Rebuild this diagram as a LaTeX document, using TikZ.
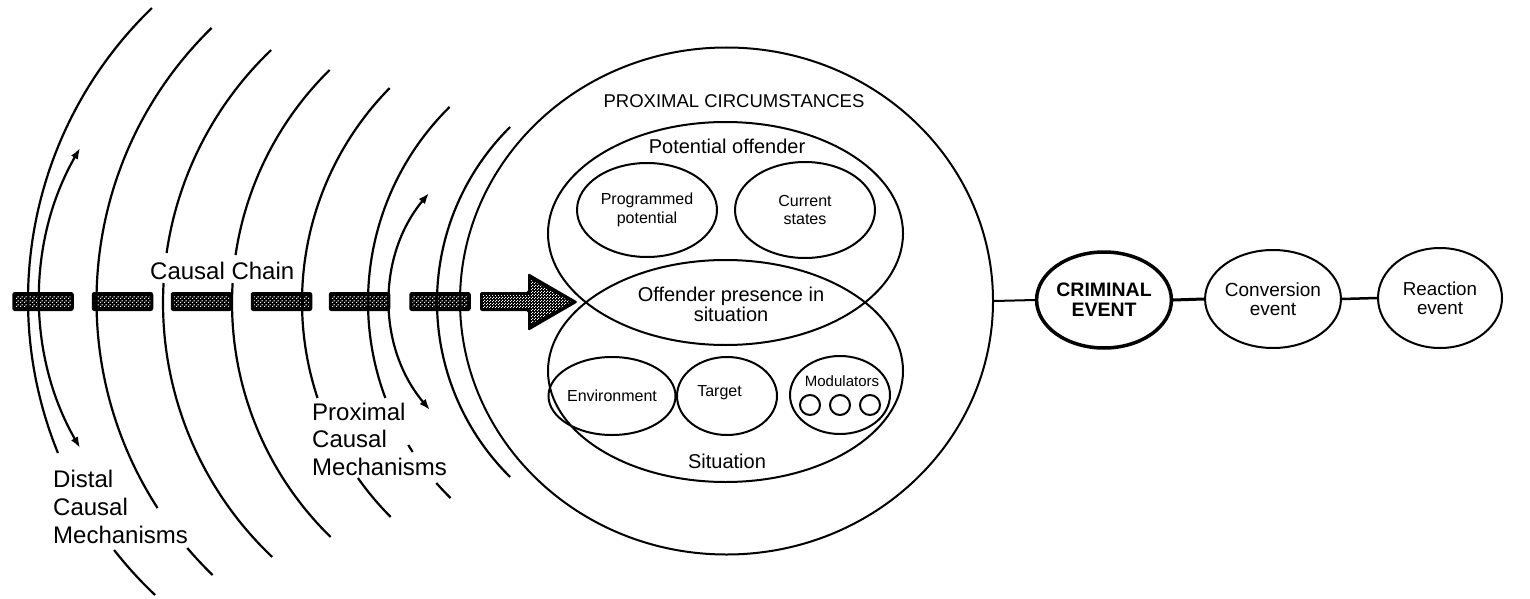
\documentclass[tikz,border=0pt]{standalone}
\usepackage{fontspec}
\setmainfont{Liberation Sans}
\usetikzlibrary{shapes.geometric,arrows.meta,patterns}

\pgfdeclarepatternformonly{speckle}{\pgfpointorigin}{\pgfpoint{4pt}{4pt}}{\pgfpoint{4pt}{4pt}}{%
  \pgfpathrectangle{\pgfpoint{0pt}{0pt}}{\pgfpoint{1.3pt}{1.3pt}}%
  \pgfpathrectangle{\pgfpoint{2pt}{2pt}}{\pgfpoint{1.3pt}{1.3pt}}%
  \pgfusepath{fill}}
\pgfdeclarepatternformonly{specklebig}{\pgfpointorigin}{\pgfpoint{3pt}{3pt}}{\pgfpoint{3pt}{3pt}}{%
  \pgfpathrectangle{\pgfpoint{0pt}{0pt}}{\pgfpoint{1.2pt}{1.2pt}}%
  \pgfpathrectangle{\pgfpoint{1.5pt}{1.5pt}}{\pgfpoint{1.2pt}{1.2pt}}%
  \pgfusepath{fill}}

% piece of the left half of a circle: [options]{cx}{cy}{r}{y start}{y end}
\newcommand\arcseg[6][]{%
  \pgfmathsetmacro\arcA{180-asin((#5-#3)/#4)}%
  \pgfmathsetmacro\arcB{180-asin((#6-#3)/#4)}%
  \draw[arcline,#1] (#2,#3) ++(\arcA:#4) arc[start angle=\arcA, end angle=\arcB, radius=#4];}

\newcommand\fs[2]{\fontsize{#1}{#2}\selectfont}

\begin{document}
\begin{tikzpicture}[x=1pt,y=-1pt,
  arcline/.style={line width=2.2pt},
  dblarrow/.style={{Latex[length=11pt,width=8pt]}-{Latex[length=11pt,width=8pt]}},
  ell/.style={ellipse, draw, line width=2pt, inner sep=0pt, align=center},
  chainbar/.style={rectangle, fill=black, rounded corners=2.5pt, minimum width=61.5pt,
    minimum height=19pt, inner sep=0pt,
    path picture={\fill[pattern=speckle, pattern color=white]
      ([shift={(3pt,3pt)}]path picture bounding box.south west) rectangle
      ([shift={(-3pt,-3pt)}]path picture bounding box.north east);}},
  txt/.style={inner sep=0pt},
  lab/.style={inner sep=0pt, align=left},
  link/.style={line width=2pt}
]
\useasboundingbox (0,0) rectangle (1530,599);

% causal chain bars
\foreach \n/\cx in {1/43,2/122.5,3/201.5,4/281.5,5/359.5,6/440}
  \node[chainbar] (bar\n) at (\cx,301.5) {};
% big arrow
\fill[rounded corners=1.5pt] (480,292) -- (528,292) -- (528,273) -- (578,302) -- (528,331) -- (528,311) -- (480,311) -- cycle;
\fill[pattern=specklebig, pattern color=white] (483,295) -- (531,295) -- (531,280) -- (571,302) -- (531,324) -- (531,308) -- (483,308) -- cycle;

% arcs
\arcseg{434}{300}{406}{8}{453}
\arcseg{434}{300}{406}{550}{595}
\arcseg{478}{301}{381.5}{28}{508}
\arcseg{478}{301}{381.5}{548}{575}
\arcseg{513}{303}{350}{50}{253}
\arcseg{513}{303}{350}{283}{557}
\arcseg{559}{303}{327}{70}{255}
\arcseg{559}{303}{327}{283}{537}
\arcseg{607}{302}{305}{88}{398}
\arcseg{607}{302}{305}{478}{517}
\arcseg{642}{302}{274}{107}{398}
\arcseg{642}{302}{274}{445}{452}
\arcseg{642}{302}{274}{483}{498}
\arcseg{683}{302}{246}{127}{477}
\arcseg[dblarrow]{341}{298}{301}{148}{448}
\arcseg[dblarrow]{559}{301}{169}{193}{410}

% left labels
\node[txt, anchor=base west, font=\fs{24}{28}] (chain) at (150,279.5) {Causal Chain};
\node[lab, anchor=base west, font=\fs{24}{28}] (distal) at (53,543) {Distal\\Causal\\Mechanisms};
\node[lab, anchor=base west, font=\fs{24}{27.5}] (proximal) at (312,475) {Proximal\\Causal\\Mechanisms};

% proximal circumstances
\node[ell, minimum width=533pt, minimum height=507pt] (prox) at (726.5,301) {};
\node[txt, anchor=base, font=\fs{18.5}{20}] (proxlab) at (734,107) {PROXIMAL CIRCUMSTANCES};
\node[ell, minimum width=355pt, minimum height=223pt] (po) at (725.5,233.5) {};
\node[ell, minimum width=355pt, minimum height=222pt] (sit) at (725.5,371) {};
\node[txt, anchor=base, font=\fs{20}{20}] (polab) at (727,153) {Potential offender};
\node[ell, minimum width=140pt, minimum height=94pt, font=\fs{16}{18.5}] (prog) at (647,210) {Programmed\\potential};
\node[ell, minimum width=140pt, minimum height=96pt, font=\fs{16}{18.5}] (curr) at (805,210) {Current\\states};
\node[txt, align=center, font=\fs{20}{20}] (pres) at (731,304) {Offender presence in\\situation};
\node[ell, minimum width=100pt, minimum height=78pt, font=\fs{16}{18}] (env) at (612,396) {Environment};
\node[ell, minimum width=100pt, minimum height=78pt] (targ) at (727,396) {};
\node[txt, anchor=base, font=\fs{16}{18}] (targlab) at (719.5,396.5) {Target};
\node[ell, minimum width=100pt, minimum height=78pt] (mod) at (840,395) {};
\node[txt, anchor=base, font=\fs{15}{18}] (modlab) at (842,386) {Modulators};
\foreach \n/\cx in {1/810,2/840,3/870}
  \node[circle, draw, line width=2pt, minimum size=20pt, inner sep=0pt] (m\n) at (\cx,405) {};
\node[txt, anchor=base, font=\fs{20}{20}] (sitlab) at (727,468) {Situation};

% events
\node[ell, line width=3.5pt, minimum width=132pt, minimum height=96pt, font=\bfseries\fs{19.5}{20}] (crim) at (1104,300) {CRIMINAL\\EVENT};
\node[ell, minimum width=130pt, minimum height=98pt, font=\fs{19}{19}] (conv) at (1273,299) {Conversion\\event};
\node[ell, minimum width=124pt, minimum height=100pt, font=\fs{18.8}{19}] (reac) at (1440,298) {Reaction\\event};
\draw[link] (prox.east) -- (crim.west);
\draw[link, line width=3pt] (crim.east) -- (conv.west);
\draw[link, line width=2.5pt] (conv.east) -- (reac.west);
\end{tikzpicture}
\end{document}
